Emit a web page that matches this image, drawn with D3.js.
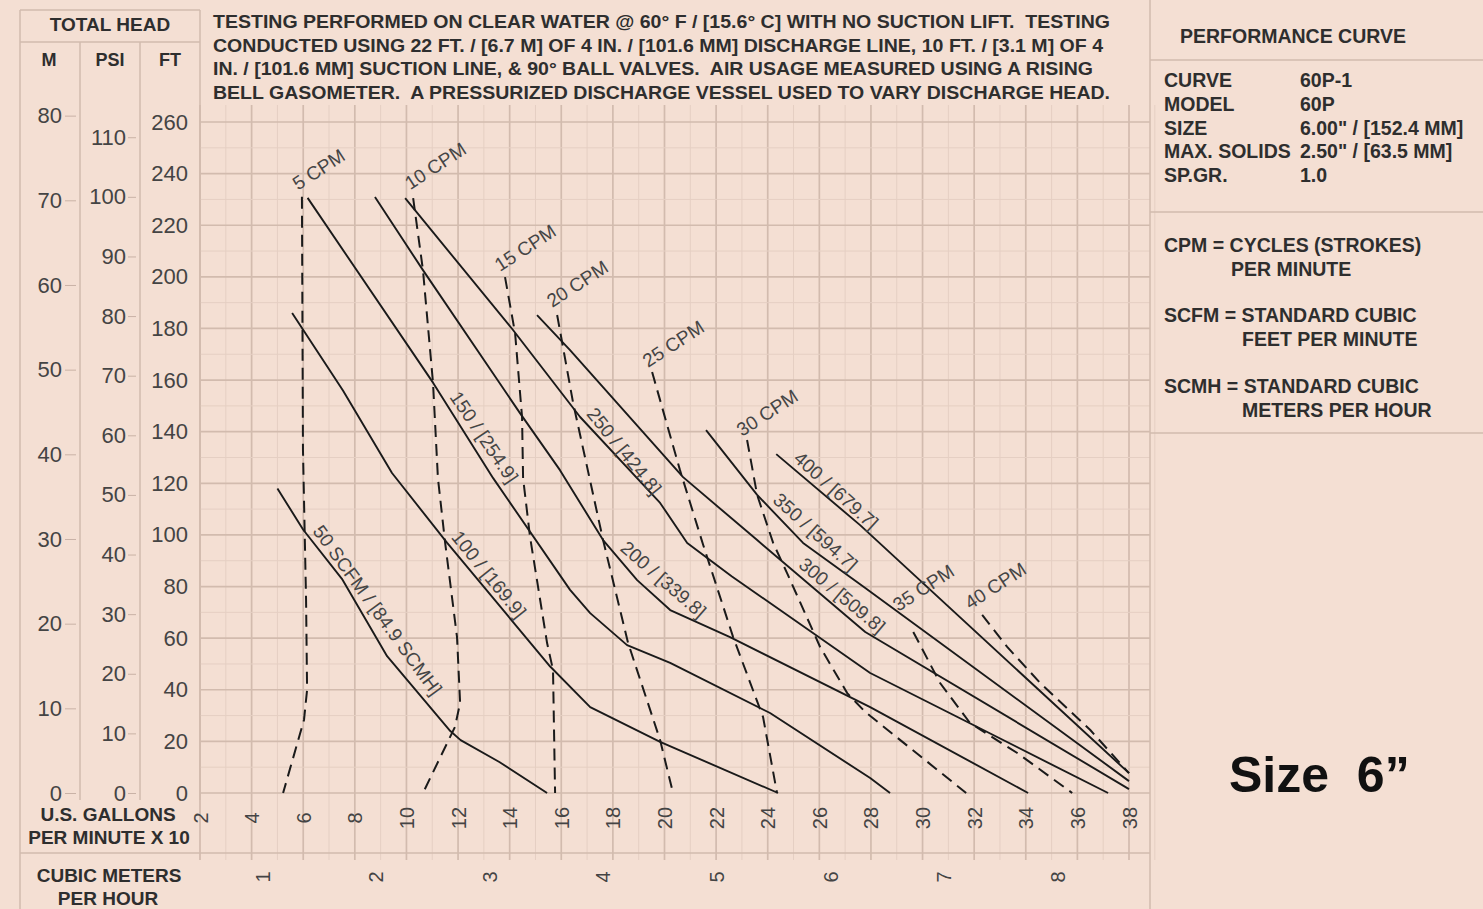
<!DOCTYPE html>
<html><head><meta charset="utf-8">
<script src="https://cdn.jsdelivr.net/npm/d3@7"></script>
<style>
html,body{margin:0;padding:0;background:#f4dfd3;}
svg{display:block;font-family:"Liberation Sans",Arial,Helvetica,sans-serif;}
</style></head><body>
<svg id="c" width="1483" height="909"></svg>
<script>
// ---------- axis ticks ----------
const gpmTicks = d3.range(2, 39, 2);          // US GPM x 10
const m3hTicks = [1, 2, 3, 4, 5, 6, 7, 8];    // cubic meters per hour (x10)
const ftTicks  = d3.range(0, 261, 20);
const mTicks   = d3.range(0, 81, 10);
const psiTicks = d3.range(0, 111, 10);

// ---------- air consumption curves (x = GPM/10, y = ft) ----------
const scfm50  = [[5.0,118],[6.0,102],[7.5,83],[9.25,53],[11.7,24],[12.1,20.5],[13.6,12],[15.45,0]];
const scfm100 = [[5.57,186],[7.54,156],[9.44,124],[11.57,97],[15.57,49],[17.12,33.3],[19.83,19.8],[24.4,0]];
const scfm150 = [[6.17,230.6],[11.03,159],[13.36,122],[16.34,78.7],[17.12,69.7],[18.55,57.3],[20.22,50.4],[24.09,31],[27.97,5.8],[28.74,0]];
const scfm200 = [[8.78,230.9],[10.64,202.6],[14.4,147.2],[15.95,125.1],[17.62,98],[18.94,82.5],[20.22,70.9],[22.54,60.4],[27.97,33.3],[34.09,0]];
const scfm250 = [[9.95,230.5],[14.13,179.4],[16.73,145.7],[19.83,112.4],[20.88,96.9],[22.6,84],[27.97,46.5],[37.19,0]];
const scfm300 = [[15.06,185.2],[16.34,171.6],[20.72,122.4],[23.59,98],[27.78,62.4],[38.0,1.5]];
const scfm350 = [[21.61,140.6],[23.59,115.5],[25.37,96.9],[27.78,79.4],[38.0,4.6]];
const scfm400 = [[24.33,131.3],[27.58,103.8],[38.0,7.7]];
const scfmNames = ["50 SCFM / [84.9 SCMH]","100 / [169.9]","150 / [254.9]","200 / [339.8]",
                   "250 / [424.8]","300 / [509.8]","350 / [594.7]","400 / [679.7]"];
const scfmLabelX = [6.15, 11.53, 11.46, 18.09, 16.77, 25.0, 24.0, 24.8];

// ---------- pump speed curves (dashed) ----------
const cpm5  = [[5.95,231],[5.99,133],[6.11,75],[6.15,40],[6.03,28.3],[5.22,0]];
const cpm10 = [[10.26,230.5],[10.64,202.6],[11.03,158.9],[11.22,122],[11.5,96.9],[11.96,60.4],[12.08,34.9],[11.88,25.6],[10.64,0]];
const cpm15 = [[13.82,199.9],[14.21,178.2],[14.48,145.7],[14.52,122],[14.79,99.2],[15.45,58.1],[15.68,47.7],[15.76,0]];
const cpm20 = [[15.84,185.2],[16.46,151.1],[17.62,98],[18.59,58.1],[19.83,20.5],[20.33,0]];
const cpm25 = [[19.52,163.1],[20.6,125.1],[21.5,96.1],[22.66,60.4],[23.82,29.4],[24.36,0]];
const cpm30 = [[23.2,136.8],[23.59,115.5],[24.21,96.9],[24.75,85.2],[26.03,56.6],[27.08,38.7],[27.78,31.4],[31.69,0]];
const cpm35 = [[29.64,62.4],[30.68,42.6],[31.84,27.1],[33.67,15.5],[35.8,0]];
const cpm40 = [[32.31,69],[33.28,56.6],[34.56,42.6],[36.5,24.4],[38.0,7.7]];
const cpmNames = ["5 CPM","10 CPM","15 CPM","20 CPM","25 CPM","30 CPM","35 CPM","40 CPM"];

const headerLines = [
  "TESTING PERFORMED ON CLEAR WATER @ 60° F / [15.6° C] WITH NO SUCTION LIFT.  TESTING",
  "CONDUCTED USING 22 FT. / [6.7 M] OF 4 IN. / [101.6 MM] DISCHARGE LINE, 10 FT. / [3.1 M] OF 4",
  "IN. / [101.6 MM] SUCTION LINE, & 90° BALL VALVES.  AIR USAGE MEASURED USING A RISING",
  "BELL GASOMETER.  A PRESSURIZED DISCHARGE VESSEL USED TO VARY DISCHARGE HEAD."
];
const specKeys = ["CURVE","MODEL","SIZE","MAX. SOLIDS","SP.GR."];
const specVals = ["60P-1","60P","6.00\" / [152.4 MM]","2.50\" / [63.5 MM]","1.0"];

// ---------- layout ----------
const svg = d3.select("#c");
const W = 1483, H = 909;
const x = d3.scaleLinear().domain([2, 38]).range([200, 1129]);
const yFt = d3.scaleLinear().domain([0, 260]).range([793, 122]);
const yM = d3.scaleLinear().domain([0, 80]).range([yFt(0), yFt(80 * 3.28084)]);
const yPsi = d3.scaleLinear().domain([0, 110]).range([yFt(0), yFt(110 * 2.31)]);
const xM3 = d3.scaleLinear().domain([0, 8]).range([x(0), x(8 * 4.40287)]);

const gridMaj = "#d2bbae", gridMin = "#e5cfc3", ink = "#1a1a1a", txt = "#2e2e2e";

svg.append("rect").attr("width", W).attr("height", H).attr("fill", "#f4dfd3");

// grid
const g = svg.append("g");
d3.range(2, 39.5, 1).forEach(v => {
  const major = v % 2 === 0;
  g.append("line").attr("x1", x(v)).attr("x2", x(v)).attr("y1", 105).attr("y2", 860)
    .attr("stroke", major ? gridMaj : gridMin).attr("stroke-width", major ? 1.7 : 1);
});
d3.range(0, 261, 10).forEach(v => {
  const major = v % 20 === 0;
  g.append("line").attr("x1", 200).attr("x2", 1150).attr("y1", yFt(v)).attr("y2", yFt(v))
    .attr("stroke", major ? gridMaj : gridMin).attr("stroke-width", major ? 1.7 : 1);
});
// frame lines
const frame = [[20,10,20,909],[200,10,200,800],[80,42,80,800],[140,42,140,800],
  [20,10,200,10],[20,42,200,42],[20,853,1150,853],[1150,0,1150,909],
  [1150,60,1483,60],[1150,212,1483,212],[1150,433,1483,433]];
frame.forEach(f => g.append("line").attr("x1",f[0]).attr("y1",f[1]).attr("x2",f[2]).attr("y2",f[3])
  .attr("stroke", gridMaj).attr("stroke-width", 1.5));

// ---------- axes ----------
function styleAxis(sel, size) {
  sel.select(".domain").remove();
  sel.selectAll(".tick line").attr("stroke", "#c9b2a6");
  sel.selectAll(".tick text").attr("fill", "#444").style("font-size", size + "px")
    .style("font-family", "'Liberation Sans',Arial,sans-serif");
}
svg.append("g").attr("transform", "translate(192,0)")
  .call(d3.axisLeft(yFt).tickValues(ftTicks).tickSize(0).tickPadding(4).tickFormat(d3.format("d")))
  .call(s => styleAxis(s, 22));
svg.append("g").attr("transform", "translate(76,0)")
  .call(d3.axisLeft(yM).tickValues(mTicks).tickSize(11).tickPadding(3).tickFormat(d3.format("d")))
  .call(s => styleAxis(s, 22));
svg.append("g").attr("transform", "translate(136,0)")
  .call(d3.axisLeft(yPsi).tickValues(psiTicks).tickSize(8).tickPadding(2).tickFormat(d3.format("d")))
  .call(s => styleAxis(s, 22));

const gx = svg.append("g").attr("transform", "translate(0,818)")
  .call(d3.axisBottom(x).tickValues(gpmTicks).tickSize(0).tickFormat(d3.format("d")))
  .call(s => styleAxis(s, 20));
gx.selectAll(".tick text").attr("y", 0).attr("dy", "0.35em").attr("transform", "rotate(-90)")
  .attr("text-anchor", "middle");
const gm = svg.append("g").attr("transform", "translate(0,877)")
  .call(d3.axisBottom(xM3).tickValues(m3hTicks).tickSize(0).tickFormat(d3.format("d")))
  .call(s => styleAxis(s, 20));
gm.selectAll(".tick text").attr("y", 0).attr("dy", "0.35em").attr("transform", "rotate(-90)")
  .attr("text-anchor", "middle");

// axis headers
function btext(xp, yp, s, size, anchor, fill) {
  return svg.append("text").attr("x", xp).attr("y", yp).text(s)
    .attr("font-weight", "bold").attr("font-size", size).attr("fill", fill || txt)
    .attr("text-anchor", anchor || "start").style("white-space", "pre");
}
btext(110, 31, "TOTAL HEAD", 19, "middle");
btext(49, 66, "M", 18, "middle");
btext(110, 66, "PSI", 18, "middle");
btext(170, 66, "FT", 18, "middle");
btext(108, 821, "U.S. GALLONS", 19, "middle");
btext(109, 844, "PER MINUTE X 10", 19, "middle");
btext(109, 882, "CUBIC METERS", 19, "middle");
btext(108, 905, "PER HOUR", 19, "middle");

// header text block
const hw = [897, 890, 880, 897];
headerLines.forEach((s, i) => {
  btext(213, 28 + i * 23.7, s, 17.5).attr("textLength", hw[i]).attr("lengthAdjust", "spacingAndGlyphs");
});

// right panel
btext(1293, 43, "PERFORMANCE CURVE", 19.5, "middle");
specKeys.forEach((k, i) => {
  btext(1164, 87 + i * 23.8, k, 19.5);
  btext(1300, 87 + i * 23.8, specVals[i], 19.5);
});
btext(1164, 252, "CPM = CYCLES (STROKES)", 19.5);
btext(1231, 276, "PER MINUTE", 19.5);
btext(1164, 322, "SCFM = STANDARD CUBIC", 19.5);
btext(1242, 346, "FEET PER MINUTE", 19.5);
btext(1164, 393, "SCMH = STANDARD CUBIC", 19.5);
btext(1242, 417, "METERS PER HOUR", 19.5);
btext(1229, 792, "Size  6\u201D", 50, "start", "#111");

// ---------- curves ----------
const line = d3.line().x(d => x(d[0])).y(d => yFt(d[1]));
const scfm = [scfm50, scfm100, scfm150, scfm200, scfm250, scfm300, scfm350, scfm400];
const cpm = [cpm5, cpm10, cpm15, cpm20, cpm25, cpm30, cpm35, cpm40];

svg.append("g").selectAll("path").data(cpm).join("path")
  .attr("d", line).attr("fill", "none").attr("stroke", ink).attr("stroke-width", 2)
  .attr("stroke-dasharray", "12,7");
svg.append("g").selectAll("path").data(scfm).join("path")
  .attr("d", line).attr("fill", "none").attr("stroke", ink).attr("stroke-width", 1.9)
  .attr("stroke-linejoin", "round");

// labels for speed curves
const cpmOff = [[-4,-6],[-3,-8],[-5,-5],[-5,-7],[-4,-4],[-5,-3],[-15,-20],[-12,-5]];
cpm.forEach((c, i) => {
  const p = c[0];
  svg.append("text").text(cpmNames[i])
    .attr("transform", `translate(${x(p[0]) + cpmOff[i][0]},${yFt(p[1]) + cpmOff[i][1]}) rotate(-33)`)
    .attr("font-size", 19).attr("fill", "#454545");
});
// labels for air curves
const scfmAngle = [54, 51, 56, 41, 51, 40, 42, 42];
function interpY(pts, xv) {
  for (let i = 0; i < pts.length - 1; i++) {
    const a = pts[i], b = pts[i + 1];
    if ((xv - a[0]) * (xv - b[0]) <= 0) return a[1] + (b[1] - a[1]) * (xv - a[0]) / (b[0] - a[0]);
  }
  return pts[0][1];
}
scfm.forEach((c, i) => {
  const xv = scfmLabelX[i], yv = interpY(c, xv);
  svg.append("text").text(scfmNames[i])
    .attr("transform", `translate(${x(xv)},${yFt(yv)}) rotate(${scfmAngle[i]})`)
    .attr("y", -6).attr("font-size", 19).attr("fill", "#454545");
});
</script>
</body></html>
